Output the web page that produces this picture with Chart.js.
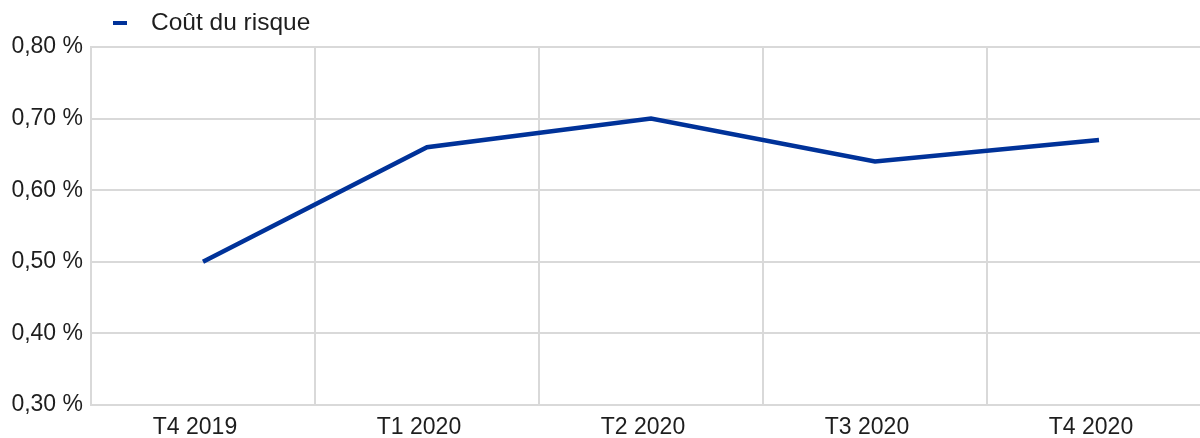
<!DOCTYPE html>
<html>
<head>
<meta charset="utf-8">
<script src="https://cdn.jsdelivr.net/npm/chart.js@4"></script>
<style>
  html, body { margin: 0; padding: 0; background: #fff; overflow: hidden; }
  #wrap { width: 1211px; height: 438px; }
</style>
</head>
<body>
<div id="wrap"><canvas id="myChart" width="1211" height="438"></canvas></div>
<script>
const quarters = ['T4 2019', 'T1 2020', 'T2 2020', 'T3 2020', 'T4 2020'];
const coutDuRisque = [0.50, 0.66, 0.70, 0.64, 0.67];
const seriesName = 'Coût du risque';
const yTicks = [0.30, 0.40, 0.50, 0.60, 0.70, 0.80];

const lineColor = '#003299';
const gridColor = '#d9d9d9';
const textColor = '#1e1e1e';
const fontFamily = '"Liberation Sans", Arial, sans-serif';

// simple legend drawn at the top left, like the original
const topLegend = {
  id: 'topLegend',
  afterDraw(chart) {
    const ctx = chart.ctx;
    ctx.save();
    ctx.strokeStyle = lineColor;
    ctx.lineWidth = 4;
    ctx.beginPath();
    ctx.moveTo(113, 23);
    ctx.lineTo(127, 23);
    ctx.stroke();
    ctx.fillStyle = textColor;
    ctx.font = '24.5px ' + fontFamily;
    ctx.textBaseline = 'middle';
    ctx.fillText(seriesName, 151, 23);
    ctx.restore();
  }
};

new Chart(document.getElementById('myChart'), {
  type: 'line',
  data: {
    labels: quarters,
    datasets: [{
      label: seriesName,
      data: coutDuRisque,
      borderColor: lineColor,
      backgroundColor: lineColor,
      borderWidth: 4.5,
      pointRadius: 0,
      tension: 0
    }]
  },
  options: {
    responsive: false,
    animation: false,
    layout: { padding: { top: 47, left: 0, right: 0, bottom: 0 } },
    plugins: {
      legend: { display: false },
      tooltip: { enabled: false }
    },
    scales: {
      x: {
        offset: true,
        grid: { offset: true, color: gridColor, lineWidth: 2, drawTicks: false },
        border: { color: gridColor, width: 2 },
        ticks: { color: textColor, font: { family: fontFamily, size: 23 }, padding: 9, labelOffset: -8 },
        afterFit: s => { s.height = 33; }
      },
      y: {
        min: 0.30,
        max: 0.80,
        afterBuildTicks: s => { s.ticks = yTicks.map(v => ({ value: v })); },
        grid: { color: gridColor, lineWidth: 2, drawTicks: false },
        border: { color: gridColor, width: 2 },
        ticks: {
          color: textColor,
          font: { family: fontFamily, size: 23 },
          padding: 8,
          callback: v => v.toFixed(2).replace('.', ',') + ' %'
        },
        afterFit: s => { s.width = 91; }
      }
    }
  },
  plugins: [topLegend]
});
</script>
</body>
</html>
